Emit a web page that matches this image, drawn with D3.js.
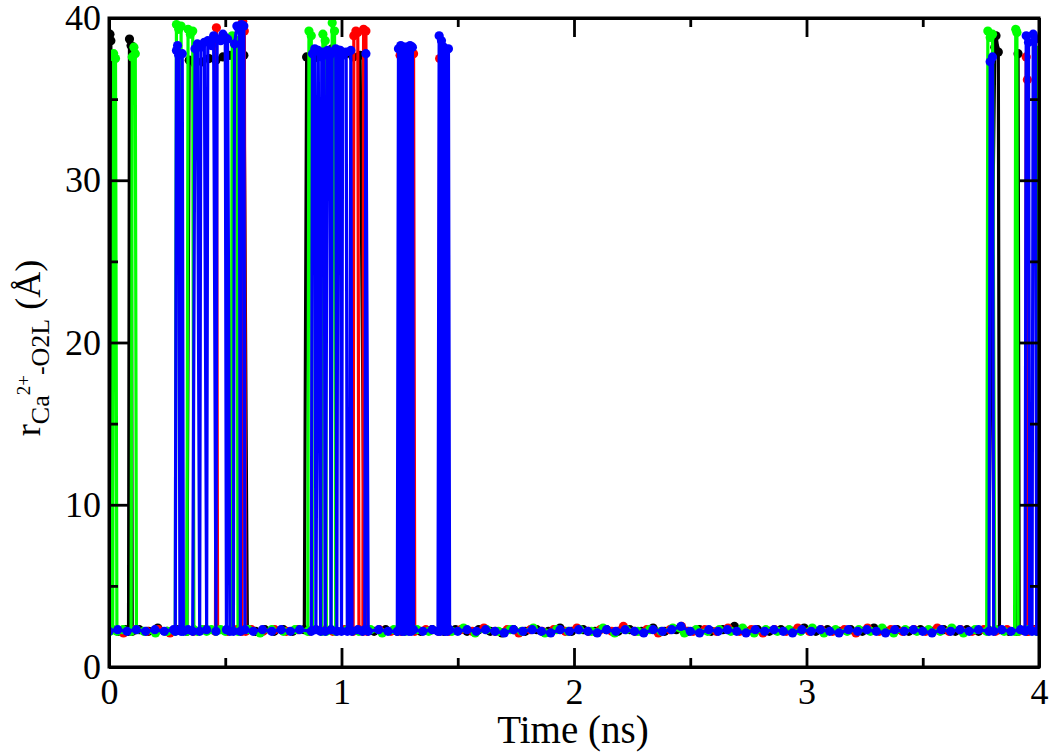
<!DOCTYPE html>
<html>
<head>
<meta charset="utf-8">
<script src="https://cdn.jsdelivr.net/npm/d3@7"></script>
<style>
  body { margin: 0; background: #fff; }
  svg { display: block; font-family: "Liberation Serif", "DejaVu Serif", serif; }
</style>
</head>
<body>
<svg id="chart" width="1050" height="753"></svg>
<script>
// Axis ticks
const xMajor = [0, 1, 2, 3, 4];
const xMinor = [0.5, 1.5, 2.5, 3.5];
const yMajor = [0, 10, 20, 30, 40];
const yMinor = [5, 15, 25, 35];

// Ca2+ - O2L distance (A) vs time (ns)
const blackData = [
  [0, 38.9], [0.004, 39.0], [0.008, 38.6], [0.012, 2.3], [0.04, 2.2], [0.07, 2.3], [0.084, 2.2],
  [0.088, 38.7], [0.095, 38.3], [0.1, 2.2], [0.13, 2.3], [0.17, 2.2], [0.21, 2.4], [0.25, 2.2],
  [0.29, 2.3], [0.335, 2.2], [0.345, 37.4], [0.37, 37.2], [0.40, 37.3], [0.43, 37.5], [0.46, 37.4],
  [0.49, 37.6], [0.52, 37.7], [0.55, 37.6], [0.58, 37.7], [0.595, 2.3], [0.63, 2.2], [0.67, 2.3],
  [0.71, 2.2], [0.75, 2.3], [0.79, 2.2], [0.84, 2.3], [0.85, 37.6], [0.88, 37.5], [0.91, 37.7],
  [0.94, 37.6], [0.96, 38.1], [0.99, 38.0], [1.02, 37.8], [1.05, 37.6], [1.08, 37.7], [1.10, 2.3],
  [1.14, 2.2], [1.19, 2.3], [1.24, 2.2], [1.29, 2.4], [1.34, 2.2], [1.39, 2.3], [1.44, 2.2],
  [1.49, 2.3], [1.54, 2.2], [1.59, 2.3], [1.64, 2.2], [1.69, 2.1], [1.74, 2.3], [1.79, 2.2],
  [1.84, 2.3], [1.89, 2.2], [1.94, 2.4], [1.99, 2.2], [2.04, 2.3], [2.09, 2.2], [2.14, 2.3],
  [2.19, 2.2], [2.24, 2.3], [2.29, 2.2], [2.34, 2.4], [2.39, 2.2], [2.44, 2.3], [2.49, 2.2],
  [2.54, 2.3], [2.59, 2.2], [2.64, 2.3], [2.69, 2.5], [2.74, 2.2], [2.79, 2.3], [2.84, 2.2],
  [2.89, 2.3], [2.94, 2.2], [2.99, 2.4], [3.04, 2.2], [3.09, 2.3], [3.14, 2.2], [3.19, 2.3],
  [3.24, 2.2], [3.29, 2.4], [3.34, 2.2], [3.39, 2.3], [3.44, 2.2], [3.49, 2.3], [3.54, 2.2],
  [3.59, 2.3], [3.64, 2.2], [3.69, 2.3], [3.74, 2.2], [3.78, 2.3], [3.81, 38.2], [3.815, 38.9],
  [3.825, 37.9], [3.83, 2.3], [3.87, 2.2], [3.905, 2.2], [3.91, 37.8], [3.915, 2.3], [3.95, 2.2],
  [3.98, 2.3], [4.0, 2.2]
];

const redData = [
  [0, 2.2], [0.0125, 2.3], [0.0625, 2.1], [0.1125, 2.3], [0.1625, 2.2], [0.2125, 2.3], [0.2625, 2.1],
  [0.3125, 2.3], [0.3625, 2.2], [0.4125, 2.3], [0.458, 2.2], [0.462, 39.4], [0.467, 2.3],
  [0.51, 2.2], [0.55, 2.3], [0.572, 2.2], [0.575, 39.8], [0.582, 39.2], [0.588, 2.2], [0.6125, 2.3],
  [0.6625, 2.2], [0.7125, 2.3], [0.7625, 2.2], [0.8125, 2.3], [0.8625, 2.2], [0.9125, 2.3],
  [0.9625, 2.2], [1.0125, 2.3], [1.05, 2.2], [1.053, 38.9], [1.062, 39.2], [1.07, 39.1], [1.075, 2.3],
  [1.092, 2.2], [1.095, 39.3], [1.105, 39.2], [1.11, 2.2], [1.1625, 2.3], [1.2125, 2.2],
  [1.248, 2.3], [1.252, 37.7], [1.256, 2.2], [1.305, 2.3], [1.31, 37.8], [1.315, 2.2],
  [1.3625, 2.3], [1.418, 2.2], [1.422, 37.5], [1.426, 2.3], [1.4625, 2.2], [1.5125, 2.3],
  [1.5625, 2.2], [1.6125, 2.4], [1.6625, 2.2], [1.7125, 2.3], [1.7625, 2.1], [1.8125, 2.3],
  [1.8625, 2.2], [1.9125, 2.3], [1.9625, 2.2], [2.0125, 2.4], [2.0625, 2.2], [2.1125, 2.3],
  [2.1625, 2.2], [2.2125, 2.5], [2.2625, 2.2], [2.3125, 2.3], [2.3625, 2.1], [2.4125, 2.3],
  [2.4625, 2.5], [2.5125, 2.2], [2.5625, 2.3], [2.6125, 2.2], [2.6625, 2.4], [2.7125, 2.2],
  [2.7625, 2.3], [2.8125, 2.1], [2.8625, 2.3], [2.9125, 2.2], [2.9625, 2.4], [3.0125, 2.2],
  [3.0625, 2.3], [3.1125, 2.2], [3.1625, 2.3], [3.2125, 2.1], [3.2625, 2.4], [3.3125, 2.2],
  [3.3625, 2.3], [3.4125, 2.2], [3.4625, 2.3], [3.5125, 2.2], [3.5625, 2.4], [3.6125, 2.2],
  [3.6625, 2.3], [3.7125, 2.2], [3.7625, 2.3], [3.8125, 2.2], [3.8625, 2.3], [3.9125, 2.2],
  [3.942, 2.3], [3.945, 37.6], [3.95, 36.2], [3.955, 2.2], [3.9725, 2.3], [4.0, 2.2]
];

const greenData = [
  [0, 37.6], [0.004, 2.2], [0.016, 2.3], [0.02, 37.8], [0.028, 37.5], [0.034, 2.2], [0.06, 2.3],
  [0.095, 2.2], [0.1, 37.6], [0.107, 38.2], [0.113, 37.8], [0.118, 2.3], [0.15, 2.2], [0.2, 2.1],
  [0.25, 2.2], [0.285, 2.2], [0.29, 39.6], [0.30, 39.3], [0.31, 39.5], [0.315, 2.3], [0.335, 2.2],
  [0.34, 39.3], [0.35, 39.0], [0.36, 39.2], [0.365, 2.3], [0.38, 2.2], [0.40, 2.3], [0.42, 2.2],
  [0.44, 2.3], [0.46, 2.2], [0.48, 2.3], [0.5, 2.2], [0.525, 2.3], [0.53, 38.9], [0.54, 38.4],
  [0.55, 38.6], [0.555, 2.2], [0.6, 2.3], [0.65, 2.1], [0.7, 2.3], [0.75, 2.2], [0.8, 2.3],
  [0.855, 2.2], [0.86, 39.2], [0.87, 38.9], [0.875, 2.3], [0.915, 2.2], [0.92, 39.0],
  [0.93, 38.6], [0.935, 2.2], [0.955, 2.3], [0.96, 39.7], [0.97, 39.2], [0.975, 2.2],
  [1.025, 2.3], [1.075, 2.2], [1.125, 2.3], [1.175, 2.1], [1.225, 2.3], [1.275, 2.2],
  [1.325, 2.3], [1.375, 2.2], [1.425, 2.3], [1.475, 2.2], [1.525, 2.4], [1.575, 2.1],
  [1.625, 2.3], [1.675, 2.2], [1.725, 2.3], [1.775, 2.2], [1.825, 2.4], [1.875, 2.1],
  [1.925, 2.3], [1.975, 2.2], [2.025, 2.3], [2.075, 2.2], [2.125, 2.4], [2.175, 2.1],
  [2.225, 2.3], [2.275, 2.2], [2.325, 2.3], [2.375, 2.2], [2.425, 2.4], [2.475, 2.1],
  [2.525, 2.3], [2.575, 2.2], [2.625, 2.3], [2.675, 2.2], [2.725, 2.4], [2.775, 2.1],
  [2.825, 2.3], [2.875, 2.2], [2.925, 2.3], [2.975, 2.2], [3.025, 2.4], [3.075, 2.1],
  [3.125, 2.3], [3.175, 2.2], [3.225, 2.3], [3.275, 2.2], [3.325, 2.4], [3.375, 2.1],
  [3.425, 2.3], [3.475, 2.2], [3.525, 2.3], [3.575, 2.2], [3.625, 2.4], [3.675, 2.1],
  [3.725, 2.3], [3.775, 2.2], [3.78, 39.2], [3.79, 38.8], [3.80, 39.0], [3.81, 2.3], [3.85, 2.2],
  [3.895, 2.2], [3.9, 39.3], [3.905, 39.1], [3.91, 2.2], [3.95, 2.3], [3.99, 2.2],
  [3.995, 38.0], [4.0, 2.3]
];

const blueData = [
  [0, 2.2], [0.0375, 2.3], [0.0775, 2.2], [0.1175, 2.3], [0.1575, 2.2], [0.1975, 2.3],
  [0.2375, 2.2], [0.2775, 2.3], [0.285, 2.2], [0.29, 38.0], [0.295, 38.3], [0.30, 37.7],
  [0.305, 2.3], [0.31, 2.2], [0.315, 37.8], [0.32, 2.2], [0.34, 2.3], [0.36, 2.2], [0.37, 38.1],
  [0.38, 38.4], [0.39, 2.2], [0.395, 38.2], [0.41, 38.5], [0.42, 2.3], [0.425, 38.6], [0.44, 38.3],
  [0.45, 38.9], [0.46, 2.2], [0.465, 38.7], [0.48, 38.6], [0.49, 39.0], [0.50, 38.8], [0.505, 2.3],
  [0.51, 38.7], [0.52, 2.2], [0.535, 2.2], [0.54, 38.4], [0.55, 39.5], [0.56, 39.3], [0.565, 2.2],
  [0.57, 39.6], [0.58, 39.5], [0.585, 2.3], [0.62, 2.2], [0.66, 2.3], [0.70, 2.2], [0.74, 2.3],
  [0.78, 2.2], [0.82, 2.3], [0.87, 2.2], [0.875, 37.8], [0.885, 38.1], [0.89, 2.3], [0.9, 38.0],
  [0.91, 2.2], [0.915, 37.6], [0.925, 37.9], [0.93, 2.2], [0.94, 38.0], [0.95, 37.7], [0.955, 2.3],
  [0.96, 37.9], [0.975, 38.1], [0.98, 2.2], [0.985, 37.8], [0.995, 38.0], [1.0, 2.2], [1.005, 37.7],
  [1.02, 37.9], [1.025, 2.2], [1.035, 2.3], [1.04, 38.0], [1.045, 2.2], [1.07, 2.3], [1.09, 2.2],
  [1.1, 2.3], [1.105, 37.8], [1.115, 2.2], [1.16, 2.3], [1.2, 2.2], [1.24, 2.2], [1.245, 38.1],
  [1.25, 2.3], [1.255, 38.3], [1.26, 2.2], [1.265, 38.0], [1.27, 2.2], [1.275, 38.2], [1.28, 2.3],
  [1.285, 38.1], [1.29, 2.2], [1.295, 38.3], [1.30, 2.2], [1.305, 38.2], [1.31, 2.3], [1.35, 2.2],
  [1.39, 2.3], [1.415, 2.2], [1.42, 38.9], [1.425, 2.2], [1.43, 38.6], [1.435, 2.3], [1.44, 38.2],
  [1.445, 2.2], [1.45, 38.0], [1.455, 2.2], [1.46, 38.1], [1.465, 2.3], [1.5, 2.2], [1.54, 2.3],
  [1.58, 2.2], [1.62, 2.3], [1.66, 2.2], [1.70, 2.1], [1.74, 2.3], [1.78, 2.2], [1.82, 2.3],
  [1.86, 2.2], [1.90, 2.1], [1.94, 2.3], [1.98, 2.2], [2.02, 2.3], [2.06, 2.2], [2.10, 2.1],
  [2.14, 2.3], [2.18, 2.2], [2.22, 2.3], [2.26, 2.2], [2.30, 2.1], [2.34, 2.3], [2.38, 2.2],
  [2.42, 2.3], [2.46, 2.5], [2.50, 2.2], [2.54, 2.1], [2.58, 2.3], [2.62, 2.2], [2.66, 2.3],
  [2.70, 2.2], [2.74, 2.1], [2.78, 2.3], [2.82, 2.2], [2.86, 2.3], [2.90, 2.2], [2.94, 2.1],
  [2.98, 2.3], [3.02, 2.2], [3.06, 2.3], [3.10, 2.2], [3.14, 2.1], [3.18, 2.3], [3.22, 2.2],
  [3.26, 2.3], [3.30, 2.2], [3.34, 2.1], [3.38, 2.3], [3.42, 2.2], [3.46, 2.3], [3.50, 2.2],
  [3.54, 2.1], [3.58, 2.3], [3.62, 2.2], [3.66, 2.3], [3.70, 2.2], [3.74, 2.3], [3.785, 2.2],
  [3.79, 37.3], [3.80, 37.6], [3.805, 2.2], [3.84, 2.3], [3.88, 2.2], [3.92, 2.3], [3.94, 2.2],
  [3.945, 38.9], [3.955, 38.5], [3.96, 2.3], [3.97, 2.2], [3.975, 39.0], [3.985, 38.7],
  [3.99, 2.2], [4.0, 2.3]
];

const seriesList = [
  { name: "black", color: "#000000", data: blackData },
  { name: "red", color: "#ff0000", data: redData },
  { name: "green", color: "#00ff00", data: greenData },
  { name: "blue", color: "#0000ff", data: blueData },
];

const svg = d3.select("#chart");
const plotLeft = 109, plotRight = 1039, plotTop = 18, plotBottom = 667;
const fontSize = 36;

const x = d3.scaleLinear().domain([0, 4]).range([plotLeft, plotRight]);
const y = d3.scaleLinear().domain([0, 40]).range([plotBottom, plotTop]);

svg.append("defs").append("clipPath").attr("id", "plot-clip")
  .append("rect")
  .attr("x", plotLeft).attr("y", plotTop)
  .attr("width", plotRight - plotLeft).attr("height", plotBottom - plotTop);

const plot = svg.append("g").attr("clip-path", "url(#plot-clip)");

const line = d3.line()
  .x((d) => x(d[0]))
  .y((d) => y(d[1]));

seriesList.forEach((s) => {
  const g = plot.append("g").attr("class", `series-${s.name}`);
  g.append("path")
    .datum(s.data)
    .attr("fill", "none")
    .attr("stroke", s.color)
    .attr("stroke-width", 3.2)
    .attr("stroke-linejoin", "round")
    .attr("d", line);
  g.selectAll("circle")
    .data(s.data)
    .enter()
    .append("circle")
    .attr("cx", (d) => x(d[0]))
    .attr("cy", (d) => y(d[1]))
    .attr("r", 4.6)
    .attr("fill", s.color);
});

// Axes: ticks point inward on all four sides
const styleAxis = (g) => {
  g.selectAll(".domain").attr("stroke", "#000").attr("stroke-width", 3);
  g.selectAll(".tick line").attr("stroke", "#000").attr("stroke-width", 2.8);
  g.selectAll(".tick text")
    .attr("fill", "#000")
    .style("font-size", `${fontSize}px`)
    .style("font-family", "'Liberation Serif', 'DejaVu Serif', serif");
};

const majorLen = 19, minorLen = 9;

svg.append("g").attr("transform", `translate(0,${plotBottom})`)
  .call(d3.axisBottom(x).tickValues(xMajor).tickFormat(d3.format("d"))
    .tickSize(-majorLen).tickSizeOuter(0).tickPadding(11))
  .call(styleAxis);
svg.append("g").attr("transform", `translate(0,${plotBottom})`)
  .call(d3.axisBottom(x).tickValues(xMinor).tickFormat("").tickSize(-minorLen).tickSizeOuter(0))
  .call(styleAxis);

svg.append("g").attr("transform", `translate(0,${plotTop})`)
  .call(d3.axisTop(x).tickValues(xMajor).tickFormat("").tickSize(-majorLen).tickSizeOuter(0))
  .call(styleAxis);
svg.append("g").attr("transform", `translate(0,${plotTop})`)
  .call(d3.axisTop(x).tickValues(xMinor).tickFormat("").tickSize(-minorLen).tickSizeOuter(0))
  .call(styleAxis);

svg.append("g").attr("transform", `translate(${plotLeft},0)`)
  .call(d3.axisLeft(y).tickValues(yMajor).tickFormat(d3.format("d"))
    .tickSize(-majorLen).tickSizeOuter(0).tickPadding(8))
  .call(styleAxis);
svg.append("g").attr("transform", `translate(${plotLeft},0)`)
  .call(d3.axisLeft(y).tickValues(yMinor).tickFormat("").tickSize(-minorLen).tickSizeOuter(0))
  .call(styleAxis);

svg.append("g").attr("transform", `translate(${plotRight},0)`)
  .call(d3.axisRight(y).tickValues(yMajor).tickFormat("").tickSize(-majorLen).tickSizeOuter(0))
  .call(styleAxis);
svg.append("g").attr("transform", `translate(${plotRight},0)`)
  .call(d3.axisRight(y).tickValues(yMinor).tickFormat("").tickSize(-minorLen).tickSizeOuter(0))
  .call(styleAxis);

// Frame
svg.append("rect")
  .attr("x", plotLeft).attr("y", plotTop)
  .attr("width", plotRight - plotLeft).attr("height", plotBottom - plotTop)
  .attr("fill", "none").attr("stroke", "#000").attr("stroke-width", 3);

// Axis titles
svg.append("text")
  .attr("x", 573)
  .attr("y", 743)
  .attr("text-anchor", "middle")
  .style("font-size", "39px")
  .text("Time (ns)");

const yTitle = svg.append("text")
  .attr("transform", "translate(40,348) rotate(-90)")
  .attr("text-anchor", "middle")
  .style("font-size", `${fontSize}px`);
yTitle.append("tspan").text("r");
yTitle.append("tspan").attr("dy", 9).style("font-size", "26px").text("Ca");
yTitle.append("tspan").attr("dy", -19).style("font-size", "19px").text("2+");
yTitle.append("tspan").attr("dy", 19).style("font-size", "26px").text("-O2L");
yTitle.append("tspan").attr("dy", -9).text(" (Å)");
</script>
</body>
</html>
